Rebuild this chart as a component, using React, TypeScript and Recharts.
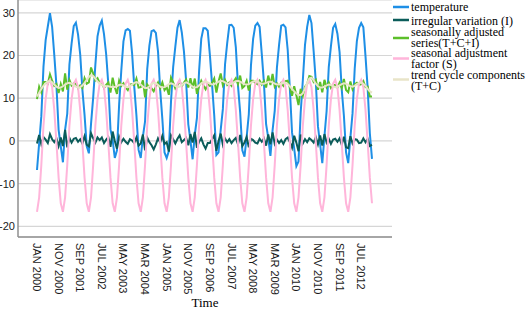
import { LineChart, Line, XAxis, YAxis, CartesianGrid, Label } from 'recharts'

const monthNames = ['JAN', 'FEB', 'MAR', 'APR', 'MAY', 'JUN', 'JUL', 'AUG', 'SEP', 'OCT', 'NOV', 'DEC']
const years = [2000, 2001, 2002, 2003, 2004, 2005, 2006, 2007, 2008, 2009, 2010, 2011, 2012]
const categories = years.flatMap((y) => monthNames.map((m) => `${m} ${y}`))
const yTicks = [-20, -10, 0, 10, 20, 30]

const temperature = [
  -6.8, -0.5, 5.8, 17.4, 23.6, 26.8, 29.9, 26.7, 20.1, 12.9, 2.6, -1.3,
  -5.0, 2.6, 6.4, 17.9, 22.8, 26.9, 27.7, 24.9, 20.2, 12.0, 6.1, -1.2,
  -2.9, 4.0, 10.2, 17.8, 24.5, 27.0, 28.2, 25.0, 20.3, 13.3, 2.7, 0.2,
  -4.0, -2.2, 8.5, 16.5, 23.3, 25.9, 26.2, 25.8, 20.5, 12.7, 6.0, -2.1,
  -4.0, 1.0, 4.6, 16.8, 22.3, 25.7, 25.9, 25.3, 20.9, 11.9, 5.1, -2.7,
  -4.0, -2.4, 9.2, 17.3, 22.1, 26.5, 28.3, 25.4, 20.9, 14.0, 3.9, 0.1,
  -4.3, 1.4, 5.4, 16.4, 23.9, 26.4, 26.4, 25.8, 20.1, 13.2, 6.0, -3.3,
  -2.7, 2.6, 7.5, 17.9, 22.9, 27.1, 27.2, 26.5, 21.9, 12.9, 6.7, -2.2,
  -3.7, 0.9, 6.2, 17.7, 23.9, 27.0, 27.6, 26.7, 20.4, 13.6, 3.9, 0.7,
  -3.5, 2.5, 7.1, 17.1, 22.5, 27.0, 27.2, 26.6, 21.3, 12.1, 2.0, -1.8,
  -5.9, -4.8, 6.6, 14.2, 22.5, 26.7, 29.5, 27.6, 21.0, 13.9, 3.4, -0.8,
  -5.2, 1.1, 7.0, 17.3, 22.2, 26.5, 27.4, 25.1, 20.8, 12.0, 5.9, -2.7,
  -5.2, 0.7, 6.5, 16.9, 23.4, 26.5, 27.6, 26.6, 19.8, 12.3, 1.8, -4.2,
]

const irregular = [
  -0.6, 1.4, -0.8, 0.9, 0.3, -0.5, 1.6, 0.4, -0.3, 0.6, -1.2, 0.8,
  -1.2, 2.6, -1.5, 0.7, -0.4, 0.5, 0.7, -0.2, 0.4, -0.6, 1.1, -0.9,
  -1.3, 1.8, 0.6, -0.4, 0.8, 0.2, 0.8, -0.5, 0.3, 0.9, -1.4, 2.2,
  0.0, -1.8, 1.0, -0.3, 0.5, -0.2, -0.7, 0.4, 0.1, -0.5, 0.8, -1.1,
  -0.6, 1.5, -2.2, 0.8, -0.3, -1.0, -2.0, -0.8, 0.6, -0.4, 1.2, -0.7,
  -0.3, -2.5, 1.3, 0.4, -0.6, 0.5, 1.3, -0.3, 0.2, 0.7, -1.0, 1.6,
  -0.4, 2.1, -1.6, -0.2, 0.6, -0.8, -1.8, -0.5, -0.5, 0.4, 1.3, -2.3,
  0.0, 1.7, -0.9, 0.6, -0.3, 0.4, -0.5, 0.2, 0.7, -0.8, 1.4, -1.2,
  -0.4, 0.9, -1.5, 0.5, 0.2, -0.4, -0.6, 0.5, -0.2, 0.6, -1.1, 1.5,
  -0.8, 2.0, -0.7, 0.3, -0.5, 0.2, -0.7, 0.4, 0.8, -0.3, -1.6, 1.2,
  -0.4, -2.4, 1.5, -0.6, 0.4, -0.3, 0.6, 0.2, -0.4, 0.9, -0.8, 1.3,
  -1.1, 1.6, -0.4, 0.5, -0.7, 0.3, 0.5, -0.2, 0.6, -0.9, 1.0, -1.5,
  -1.7, 1.1, -0.6, 0.4, 0.3, -0.5, -0.4, 0.6, -0.3, 0.5, -1.2, -0.9,
]

const seasonallyAdjusted = [
  9.8, 12.7, 11.4, 13.8, 13.8, 13.4, 15.6, 14.1, 12.9, 13.3, 11.2, 13.3,
  11.6, 15.8, 12.0, 14.3, 13.0, 13.5, 13.4, 12.3, 13.0, 12.4, 14.7, 13.4,
  13.7, 17.2, 15.8, 14.2, 14.7, 13.6, 13.9, 12.4, 13.1, 13.7, 11.3, 14.8,
  12.6, 11.0, 14.1, 12.9, 13.5, 12.5, 11.9, 13.2, 13.3, 13.1, 14.6, 12.5,
  12.6, 14.2, 10.2, 13.2, 12.5, 12.3, 11.6, 12.7, 13.7, 12.3, 13.7, 11.9,
  12.6, 10.8, 14.8, 13.7, 12.3, 13.1, 14.0, 12.8, 13.7, 14.4, 12.5, 14.7,
  12.3, 14.6, 11.0, 12.8, 14.1, 13.0, 12.1, 13.2, 12.9, 13.6, 14.6, 11.3,
  13.9, 15.8, 13.1, 14.3, 13.1, 13.7, 12.9, 13.9, 14.7, 13.3, 15.3, 12.4,
  12.9, 14.1, 11.8, 14.1, 14.1, 13.6, 13.3, 14.1, 13.2, 14.0, 12.5, 15.3,
  13.1, 15.7, 12.7, 13.5, 12.7, 13.6, 12.9, 14.0, 14.1, 12.5, 10.6, 12.8,
  10.7, 8.4, 12.2, 10.6, 12.7, 13.3, 15.2, 15.0, 13.8, 14.3, 12.0, 13.8,
  11.4, 14.3, 12.6, 13.7, 12.4, 13.1, 13.1, 12.5, 13.6, 12.4, 14.5, 11.9,
  11.4, 13.9, 12.1, 13.3, 13.6, 13.1, 13.3, 14.0, 12.6, 12.7, 10.4, 10.4,
]

const seasonalFactor = [
  -16.6, -13.2, -5.6, 3.6, 9.8, 13.4, 14.3, 12.6, 7.2, -0.4, -8.6, -14.6,
  -16.6, -13.2, -5.6, 3.6, 9.8, 13.4, 14.3, 12.6, 7.2, -0.4, -8.6, -14.6,
  -16.6, -13.2, -5.6, 3.6, 9.8, 13.4, 14.3, 12.6, 7.2, -0.4, -8.6, -14.6,
  -16.6, -13.2, -5.6, 3.6, 9.8, 13.4, 14.3, 12.6, 7.2, -0.4, -8.6, -14.6,
  -16.6, -13.2, -5.6, 3.6, 9.8, 13.4, 14.3, 12.6, 7.2, -0.4, -8.6, -14.6,
  -16.6, -13.2, -5.6, 3.6, 9.8, 13.4, 14.3, 12.6, 7.2, -0.4, -8.6, -14.6,
  -16.6, -13.2, -5.6, 3.6, 9.8, 13.4, 14.3, 12.6, 7.2, -0.4, -8.6, -14.6,
  -16.6, -13.2, -5.6, 3.6, 9.8, 13.4, 14.3, 12.6, 7.2, -0.4, -8.6, -14.6,
  -16.6, -13.2, -5.6, 3.6, 9.8, 13.4, 14.3, 12.6, 7.2, -0.4, -8.6, -14.6,
  -16.6, -13.2, -5.6, 3.6, 9.8, 13.4, 14.3, 12.6, 7.2, -0.4, -8.6, -14.6,
  -16.6, -13.2, -5.6, 3.6, 9.8, 13.4, 14.3, 12.6, 7.2, -0.4, -8.6, -14.6,
  -16.6, -13.2, -5.6, 3.6, 9.8, 13.4, 14.3, 12.6, 7.2, -0.4, -8.6, -14.6,
  -16.6, -13.2, -5.6, 3.6, 9.8, 13.4, 14.3, 12.6, 7.2, -0.4, -8.6, -14.6,
]

const trendCycle = [
  10.4, 11.3, 12.2, 12.9, 13.5, 13.9, 14.0, 13.7, 13.2, 12.7, 12.4, 12.5,
  12.8, 13.2, 13.5, 13.6, 13.4, 13.0, 12.7, 12.5, 12.6, 13.0, 13.6, 14.3,
  15.0, 15.4, 15.2, 14.6, 13.9, 13.4, 13.1, 12.9, 12.8, 12.8, 12.7, 12.6,
  12.6, 12.8, 13.1, 13.2, 13.0, 12.7, 12.6, 12.8, 13.2, 13.6, 13.8, 13.6,
  13.2, 12.7, 12.4, 12.4, 12.8, 13.3, 13.6, 13.5, 13.1, 12.7, 12.5, 12.6,
  12.9, 13.3, 13.5, 13.3, 12.9, 12.6, 12.7, 13.1, 13.5, 13.7, 13.5, 13.1,
  12.7, 12.5, 12.6, 13.0, 13.5, 13.8, 13.9, 13.7, 13.4, 13.2, 13.3, 13.6,
  13.9, 14.1, 14.0, 13.7, 13.4, 13.3, 13.4, 13.7, 14.0, 14.1, 13.9, 13.6,
  13.3, 13.2, 13.3, 13.6, 13.9, 14.0, 13.9, 13.6, 13.4, 13.4, 13.6, 13.8,
  13.9, 13.7, 13.4, 13.2, 13.2, 13.4, 13.6, 13.6, 13.3, 12.8, 12.2, 11.6,
  11.1, 10.8, 10.7, 11.2, 12.3, 13.6, 14.6, 14.8, 14.2, 13.4, 12.8, 12.5,
  12.5, 12.7, 13.0, 13.2, 13.1, 12.8, 12.6, 12.7, 13.0, 13.3, 13.5, 13.4,
  13.1, 12.8, 12.7, 12.9, 13.3, 13.6, 13.7, 13.4, 12.9, 12.2, 11.6, 11.3,
]

const series = [
  { key: 'temperature', name: ['temperature'], color: '#1e8fe6' },
  { key: 'irregular', name: ['irregular variation (I)'], color: '#0b5c5a' },
  { key: 'adjusted', name: ['seasonally adjusted', 'series(T+C+I)'], color: '#5cbf2a' },
  { key: 'seasonal', name: ['seasonal adjustment', 'factor (S)'], color: '#ffb5da' },
  { key: 'trend', name: ['trend cycle components', '(T+C)'], color: '#e8e4c8' },
]

const data = categories.map((label, i) => ({
  label,
  temperature: temperature[i],
  irregular: irregular[i],
  adjusted: seasonallyAdjusted[i],
  seasonal: seasonalFactor[i],
  trend: trendCycle[i],
}))

const sans = '"Liberation Sans", Arial, sans-serif'
const serif = '"Liberation Serif", "Times New Roman", serif'

function MonthTick(props: any) {
  const { x, y, payload } = props
  return (
    <text x={x} y={y} dy={4} transform={`rotate(90 ${x} ${y})`} textAnchor="start"
      fontFamily={sans} fontSize={11} fill="#1a1a1a">
      {payload.value}
    </text>
  )
}

// legend rows: icon y and text baselines, placed by hand like the spss output
const legendRows = [
  { icon: 7, lines: [10.5] },
  { icon: 20, lines: [24.5] },
  { icon: 38, lines: [35.5, 46.5] },
  { icon: 58.5, lines: [57, 68] },
  { icon: 79.5, lines: [78.5, 89.5] },
]

function SideLegend() {
  return (
    <svg width={138} height={100} style={{ position: 'absolute', left: 390, top: 0 }}>
      {series.map((s, i) => (
        <g key={s.key}>
          <line x1={3} x2={19} y1={legendRows[i].icon} y2={legendRows[i].icon} stroke={s.color} strokeWidth={2.5} />
          {s.name.map((t, j) => (
            <text key={j} x={21} y={legendRows[i].lines[j]} fontFamily={serif} fontSize={12} fill="#000">{t}</text>
          ))}
        </g>
      ))}
    </svg>
  )
}

export default function App() {
  return (
    <div style={{ position: 'absolute', left: 0, top: 0, width: 528, height: 310, background: '#fff' }}>
      <LineChart width={528} height={310} data={data} margin={{ top: 0, right: 136, bottom: 0, left: 0 }}>
        <CartesianGrid vertical={false} stroke="#d6d6d6" strokeWidth={1.2} />
        <XAxis dataKey="label" interval={9} tick={<MonthTick />} tickLine={false} tickSize={0} tickMargin={6}
          height={73} padding={{ left: 19, right: 20 }} axisLine={{ stroke: '#8f8f8f', strokeWidth: 1.5 }}>
          <Label value="Time" position="insideBottom" offset={3} fontFamily={serif} fontSize={13} fill="#000" />
        </XAxis>
        <YAxis domain={[-22.5, 33]} ticks={yTicks} width={18} tickLine={false} tickSize={0} tickMargin={3}
          axisLine={{ stroke: '#8f8f8f', strokeWidth: 1.5 }}
          tick={{ fontFamily: sans, fontSize: 11, fill: '#1a1a1a' }} />
        {series.map((s) => (
          <Line key={s.key} type="linear" dataKey={s.key} stroke={s.color} strokeWidth={2}
            dot={false} isAnimationActive={false} />
        ))}
      </LineChart>
      <SideLegend />
    </div>
  )
}
